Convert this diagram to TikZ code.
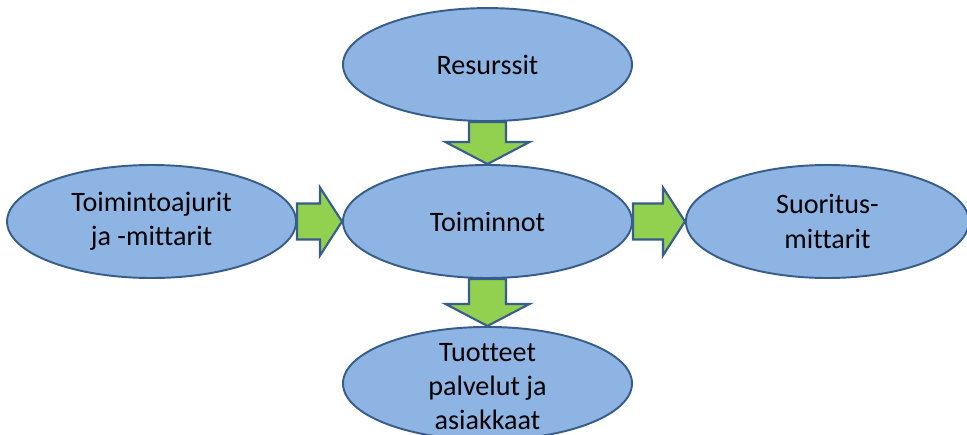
\documentclass[tikz,border=0pt]{standalone}
\usepackage{fontspec}
\setmainfont{Carlito}[RawFeature={-liga;-clig;-dlig;-calt}]
\usepackage{tikz}
\usetikzlibrary{shapes.geometric, positioning, calc}
\definecolor{ovalblue}{RGB}{142, 180, 227}
\definecolor{edgeblue}{RGB}{56, 93, 138}
\definecolor{arrowgreen}{RGB}{146, 208, 80}

% block arrows between two nodes
\newcommand{\arrdown}[2]{%
  \draw[blockarrow] ($(#1.south)+(-0.37,0)$) -- ($(#2.north)+(-0.37,0.44)$)
    -- ++(-0.47,0) -- (#2.north) -- ++(0.84,0.44) -- ++(-0.47,0)
    -- ($(#1.south)+(0.37,0)$) -- cycle;}
\newcommand{\arrright}[2]{%
  \draw[blockarrow] ($(#1.east)+(0,0.36)$) -- ($(#2.west)+(-0.44,0.36)$)
    -- ++(0,0.32) -- (#2.west) -- ++(-0.44,-0.68) -- ++(0,0.32)
    -- ($(#1.east)+(0,-0.36)$) -- cycle;}

\begin{document}
\begin{tikzpicture}[
        oval/.style={ellipse, draw=edgeblue, fill=ovalblue, line width=1.1pt,
                     minimum width=5.78cm, minimum height=2.26cm, inner sep=0pt,
                     align=center, font=\fontsize{16}{19.6}\selectfont},
        txt/.style={align=center, font=\fontsize{16}{19.2}\selectfont},
        blockarrow/.style={draw=edgeblue, fill=arrowgreen, line width=1.2pt,
                           line join=miter}]
        \useasboundingbox (-9.75,-4.25) rectangle (9.59,4.43);

        \node[oval] (toim) at (0,0) {Toiminnot};
        \node[oval, above=0.84cm of toim] (res) {Resurssit};
        \node[oval, left=0.9cm of toim] (ajurit) {Toimintoajurit\\ja -mittarit};
        \node[oval, minimum width=5.66cm, right=1.04cm of toim] (suor)
              {Suoritus-\\mittarit};
        \node[oval, below=0.94cm of toim,
              label={[txt, yshift=-0.06cm]center:Tuotteet\\palvelut ja\\asiakkaat}]
              (tuot) {};

        \arrdown{res}{toim}
        \arrdown{toim}{tuot}
        \arrright{ajurit}{toim}
        \arrright{toim}{suor}
    \end{tikzpicture}
\end{document}
